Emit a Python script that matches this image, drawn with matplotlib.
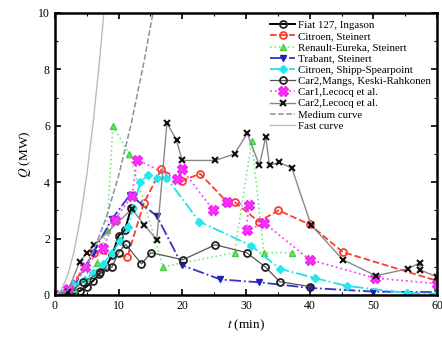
import numpy as np
import matplotlib
matplotlib.use('Agg')
import matplotlib.pyplot as plt

plt.rcParams['font.family'] = 'Liberation Serif'
plt.rcParams['mathtext.fontset'] = 'stix'

# values
fiat_t = [0, 1, 2, 3, 4, 5, 6, 7, 8, 9, 10, 11, 12]
fiat_q = [0, 0, 0.02, 0.05, 0.15, 0.3, 0.5, 0.75, 1.0, 1.4, 2.1, 2.3, 3.1]

citS_t = [0, 2, 6.2, 11.4, 14, 16.7, 20, 22.8, 27, 28.2, 32, 35.1, 40, 45.2, 60]
citS_q = [0, 0.1, 1.5, 1.36, 3.27, 4.45, 4.05, 4.3, 3.3, 3.3, 2.6, 3.0, 2.5, 1.52, 0.5]

ren_t = [0, 3, 6.6, 8.2, 9.1, 11.7, 17, 28.2, 30.9, 32.8, 37.2]
ren_q = [0, 0.2, 1.15, 2.3, 6.0, 5.0, 1.0, 1.5, 5.45, 1.5, 1.5]

tra_t = [0, 3, 6, 9, 11.8, 16, 20, 26, 32, 40, 50, 60]
tra_q = [0, 0.3, 1.5, 2.7, 3.55, 2.8, 1.05, 0.55, 0.45, 0.25, 0.12, 0.1]

cit_t = [0, 2.9, 4.7, 6, 7.6, 9, 10.2, 11.5, 12.3, 13.4, 14.7, 16.1, 17.5, 22.7, 30.8, 35.3, 40.8, 45.8, 55.3, 60]
cit_q = [0, 0.35, 0.53, 0.78, 1.1, 1.5, 1.9, 2.4, 3.1, 4.0, 4.27, 4.16, 4.16, 2.6, 1.75, 0.93, 0.6, 0.32, 0.07, 0.05]

mangs_t = [0, 2, 4.4, 7.1, 9, 10, 11.1, 13.6, 15.1, 20.1, 25.2, 30.1, 33, 35.3, 40]
mangs_q = [0, 0.05, 0.45, 0.8, 1.0, 1.5, 1.8, 1.1, 1.5, 1.25, 1.78, 1.5, 1.0, 0.47, 0.3]

car1_t = [0, 2, 4.7, 7.6, 9.4, 12.1, 12.9, 19.2, 20, 24.9, 27, 30.4, 30.1, 32.9, 40, 50.2, 60]
car1_q = [0, 0.2, 1.0, 1.67, 2.67, 3.5, 4.8, 4.1, 4.45, 3.0, 3.3, 3.2, 2.3, 2.55, 1.25, 0.6, 0.4]

car2_t = [0, 2, 3.9, 5.1, 6.2, 12.1, 14, 16, 17.6, 19.1, 20, 25.2, 28.2, 30.2, 32.1, 33.1, 33.7,
          35.2, 37.2, 40.2, 45.2, 50.4, 55.4, 57.3, 57.3, 60]
car2_q = [0, 0.1, 1.18, 1.5, 1.78, 3.05, 2.49, 1.96, 6.1, 5.48, 4.77, 4.77, 5.0, 5.73, 4.6, 5.6, 4.6,
          4.7, 4.5, 2.49, 1.25, 0.68, 0.93, 1.14, 0.89, 0.64]

med_t = [0, 2, 4, 6, 8, 10, 12, 14, 15.4]
med_q = [0, 0.17, 0.68, 1.52, 2.7, 4.22, 6.08, 8.27, 10]
fast_t = [0, 1, 2, 3, 4, 5, 6, 7, 7.7]
fast_q = [0, 0.17, 0.68, 1.52, 2.7, 4.22, 6.08, 8.27, 10]

fig = plt.figure(figsize=(4.42, 3.41), dpi=100)
ax = fig.add_axes([0.124, 0.135, 0.865, 0.827])

ms = 5
ax.plot(fiat_t, fiat_q, '-', color='black', lw=1.4, marker='o', mfc='none', mec='#222222',
        ms=ms, mew=1.3, label='Fiat 127, Ingason')
ax.plot(citS_t, citS_q, '--', color='#ff3b30', lw=1.3, marker='o', mfc='none', mec='#ff3b30',
        ms=ms, mew=1.3, label='Citroen, Steinert')
ax.plot(ren_t, ren_q, ':', color='#7ee87e', lw=1.2, marker='^', mfc='#66ee55', mec='#44cc44',
        ms=ms, label='Renault-Eureka, Steinert')
ax.plot(tra_t, tra_q, '-.', color='#3333cc', lw=1.3, marker='v', mfc='#2222bb', mec='#2222bb',
        ms=ms, label='Trabant, Steinert')
ax.plot(cit_t, cit_q, '-.', color='#22e0e8', lw=1.3, marker='D', mfc='#22e8ee', mec='#22e8ee',
        ms=ms - 0.5, label='Citroen, Shipp-Spearpoint')
ax.plot(mangs_t, mangs_q, '-', color='#555555', lw=0.9, marker='o', mfc='none', mec='#222222',
        ms=ms, mew=1.3, label='Car2,Mangs, Keski-Rahkonen')
ax.plot(car1_t, car1_q, ':', color='#ff44ff', lw=1.3, marker='X', mfc='#ff33ff', mec='#ee22ee',
        ms=ms + 1.5, label='Car1,Lecocq et al.')
ax.plot(car2_t, car2_q, '-', color='#888888', lw=1.0, marker='x', mec='#111111',
        ms=ms, mew=1.5, label='Car2,Lecocq et al.')
ax.plot(med_t, med_q, '--', color='#8f8f9f', lw=1.1, label='Medium curve')
ax.plot(fast_t, fast_q, '-', color='#bbbbbb', lw=1.0, label='Fast curve')

ax.set_xlim(0, 60)
ax.set_ylim(0, 10)
ax.set_xticks(np.arange(0, 61, 10))
ax.set_yticks(np.arange(0, 11, 2))
ax.set_xticks(np.arange(0, 61, 5), minor=True)
ax.set_yticks(np.arange(0, 11, 1), minor=True)
ax.tick_params(which='both', direction='in', top=True, right=True, labelsize=8.5)
ax.tick_params(which='major', length=4, width=1.2)
ax.tick_params(which='minor', length=2, width=0.8)
for s in ax.spines.values():
    s.set_linewidth(1.8)

ax.set_xlabel(r'$t$ (min)', fontsize=9.5)
ax.set_ylabel(r'$Q$ (MW)', fontsize=9.5)

leg = ax.legend(loc='upper left', bbox_to_anchor=(0.555, 0.985), fontsize=7.8, frameon=False,
                handlelength=2.3, labelspacing=0.15, borderaxespad=0.0, borderpad=0.3,
                handletextpad=0.3)
leg.set_clip_on(False)

fig.savefig('out.png', dpi=100)
